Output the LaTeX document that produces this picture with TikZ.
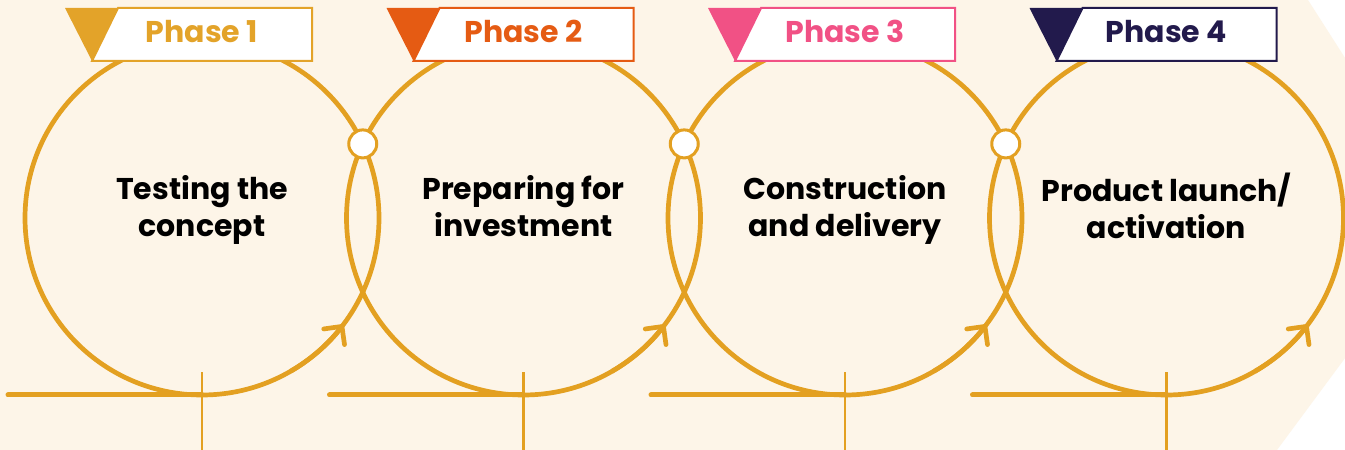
\documentclass[tikz,border=0pt]{standalone}
\usepackage{fontspec}
\setmainfont{Poppins}
\usetikzlibrary{arrows.meta}
\definecolor{cream}{HTML}{FDF5E8}
\definecolor{gold}{HTML}{E3A021}
\definecolor{ph1}{HTML}{E3A329}
\definecolor{ph2}{HTML}{E55B13}
\definecolor{ph3}{HTML}{F15185}
\definecolor{ph4}{HTML}{221A4C}
\begin{document}
\begin{tikzpicture}[x=1pt,y=1pt,
  ring/.style={draw=gold,line width=4.7pt},
  groundline/.style={draw=gold,line width=5pt,line cap=round},
  tickline/.style={draw=gold,line width=2.5pt},
  joint/.style={circle,draw=gold,fill=white,line width=3pt,minimum size=28pt,inner sep=0pt},
  tagbox/.style={fill=white,line width=2pt},
  tagtext/.style={font=\bfseries\fontsize{30}{32}\selectfont,anchor=base},
  steptext/.style={font=\bfseries\fontsize{30}{37}\selectfont,align=center,text=black},
  cycletip/.style={-{Straight Barb[length=13pt,width=26pt,round]}}
]
\useasboundingbox (0,0) rectangle (1345,450);
\fill[white] (0,0) rectangle (1345,450);
\begin{scope}
  \clip (0,0) rectangle (1345,450);
  \fill[cream] (0,0) -- (1277,0) -- (1448,231) -- (1308,450) -- (0,450) -- cycle;
\end{scope}
\foreach \i in {1,...,4} {
  \pgfmathsetmacro\cx{202+321.5*(\i-1)}
  \coordinate (c\i) at (\cx,232);
  \coordinate (gl\i) at (\cx-194,55);
  \coordinate (g\i) at (\cx,55);
  \coordinate (tt\i) at (\cx,78);
  \coordinate (tb\i) at (\cx,0);
  \draw[groundline] (gl\i) -- (g\i);
  \draw[tickline] (tb\i) -- (tt\i);
}
\foreach \i in {1,...,4} {
  \draw[ring] (c\i) circle[radius=177];
  \draw[ring,cycletip] (c\i) ++(-60:177) arc[start angle=-60,end angle=-37,radius=177];
}
\foreach \i in {1,...,3} {
  \pgfmathsetmacro\jx{202+321.5*(\i-1)+160.75}
  \node[joint] (j\i) at (\jx,306.1) {};
}
\foreach \i in {1,...,4} {
  \pgfmathsetmacro\cx{202+321.5*(\i-1)}
  \fill[ph\i] (\cx-137,442) -- (\cx-84,442) -- (\cx-110,389) -- cycle;
  \draw[tagbox,draw=ph\i] (\cx-84,442) -- (\cx+110,442) -- (\cx+110,389) -- (\cx-110,389) -- cycle;
}
\node[tagtext,text=ph1] (p1) at (202,407) {Phase 1};
\node[tagtext,text=ph2] (p2) at (523.5,407) {Phase 2};
\node[tagtext,text=ph3] (p3) at (845,407) {Phase 3};
\node[tagtext,text=ph4] (p4) at (1166.5,407) {Phase 4};
\node[steptext] (t1) at (202,239) {\strut Testing the\\\strut concept};
\node[steptext] (t2) at (523.5,239) {\strut Preparing for\\\strut investment};
\node[steptext] (t3) at (845,239) {\strut Construction\\\strut and delivery};
\node[steptext] (t4) at (1166.5,239) {\strut Product launch/\\\strut activation};
\end{tikzpicture}
\end{document}
